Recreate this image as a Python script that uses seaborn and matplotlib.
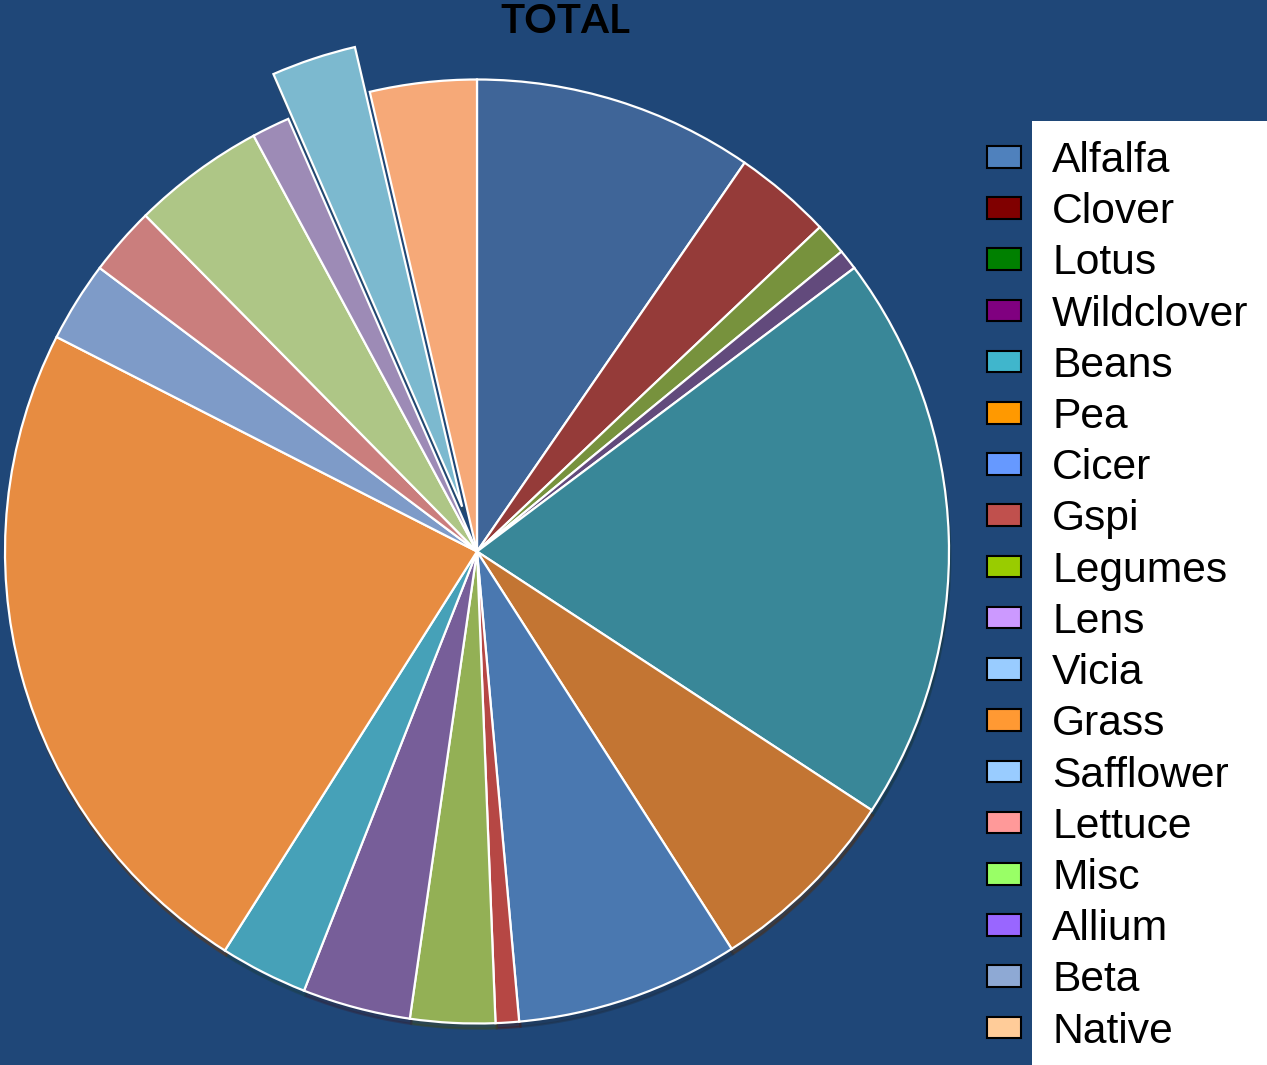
import matplotlib
matplotlib.use("Agg")
import matplotlib.pyplot as plt
from matplotlib.patches import Patch, Rectangle
import seaborn as sns

# ---- data ----
categories = ["Alfalfa", "Clover", "Lotus", "Wildclover", "Beans", "Pea", "Cicer",
              "Gspi", "Legumes", "Lens", "Vicia", "Grass", "Safflower", "Lettuce",
              "Misc", "Allium", "Beta", "Native"]
shares = [9.6, 3.35, 1.1, 0.7, 19.5, 6.7, 7.65, 0.8, 2.9, 3.7, 3.0, 23.55,
          2.75, 2.35, 4.55, 1.3, 2.9, 3.65]
exploded = ["Beta"]

pie_colors = ["#3F6598", "#953B39", "#77923D", "#624A7C", "#398798", "#C37533",
              "#4A78B0", "#B64744", "#93B055", "#775E99", "#46A1B8", "#E78C41",
              "#7E9BC8", "#CA7E7D", "#AEC686", "#9D8BB6", "#7CB9CF", "#F6A978"]
legend_colors = ["#4F81BD", "#800000", "#008000", "#800080", "#40B6CC", "#FF9900",
                 "#6699FF", "#C0504D", "#99CC00", "#CC99FF", "#99CCFF", "#FF9933",
                 "#99CCFF", "#FF9999", "#99FF66", "#9966FF", "#8EA9D4", "#FFCC99"]

BG = "#1F4778"

sns.set_style("white")
plt.rcParams["font.family"] = ["Liberation Sans", "DejaVu Sans"]

W, H = 1267, 1065
fig = plt.figure(figsize=(W / 100, H / 100), dpi=100, facecolor=BG)

cx, cy, R = 477, 551.5, 472
ax = fig.add_axes([(cx - R) / W, (H - cy - R) / H, 2 * R / W, 2 * R / H])
ax.set_facecolor(BG)

explode = [0.1 if c in exploded else 0.0 for c in categories]
wedges, _ = ax.pie(shares, colors=sns.color_palette(pie_colors), startangle=90,
                   counterclock=False, explode=explode, radius=1,
                   wedgeprops=dict(edgecolor="white", linewidth=1.6),
                   shadow=dict(ox=0.002, oy=-0.008, shade=0.6, alpha=0.45))
for w in wedges:
    w.set_clip_on(False)
ax.set_xlim(-1, 1)
ax.set_ylim(-1, 1)
ax.set_aspect("equal")
ax.axis("off")

fig.text(565 / W, 1 - 33 / H, "TOTAL", ha="center", va="baseline",
         fontsize=29, fontweight="bold", family=["Lato", "DejaVu Sans"],
         color="black")

# white legend panel
fig.patches.append(Rectangle((1032 / W, 0), (W - 1032) / W, (H - 121) / H,
                             transform=fig.transFigure, facecolor="white",
                             edgecolor="none", zorder=1))

handles = [Patch(facecolor=c, edgecolor="black", linewidth=1.5) for c in legend_colors]
leg = fig.legend(handles, categories, loc="upper left",
                 bbox_to_anchor=(987 / W, 1 - 141 / H), bbox_transform=fig.transFigure,
                 frameon=False, fontsize=30.7, handlelength=0.8, handleheight=0.4,
                 handletextpad=0.73, labelspacing=0.263, borderpad=0, borderaxespad=0)
leg.set_zorder(5)
for t in leg.get_texts():
    t.set_color("black")

fig.savefig("out.png", dpi=100, facecolor=BG)
